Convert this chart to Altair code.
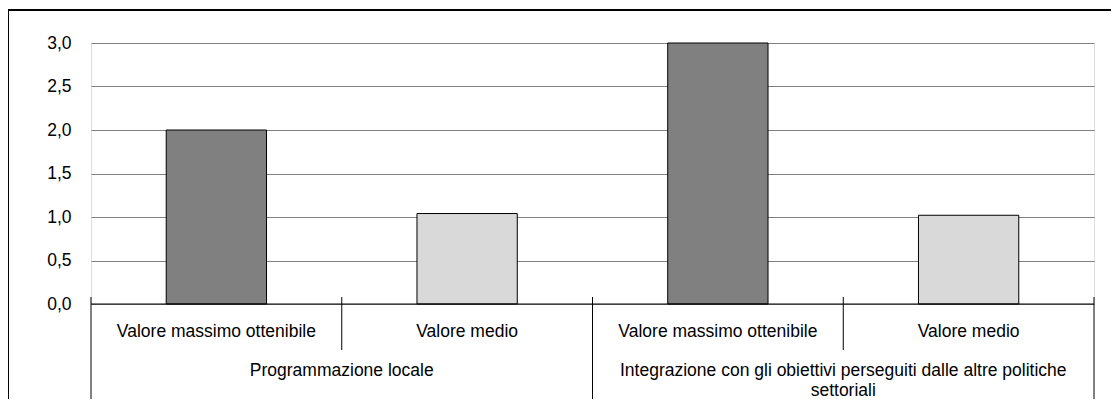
import altair as alt
import pandas as pd

# ---- data ----
groups = [
    "Programmazione locale",
    "Integrazione con gli obiettivi perseguiti dalle altre politiche\nsettoriali",
]
series = ["Valore massimo ottenibile", "Valore medio"]
values = [[2.0, 1.04], [3.0, 1.02]]
colors = ["#808080", "#d9d9d9"]
y_ticks = [0.0, 0.5, 1.0, 1.5, 2.0, 2.5, 3.0]

FONT = "Liberation Sans"
FS = 17.5
W, H = 1003, 261
n = len(groups) * len(series)

rows = []
for gi, g in enumerate(groups):
    for si, s in enumerate(series):
        pos = gi * len(series) + si
        rows.append(dict(group=g, series=s, value=values[gi][si], base=0.0,
                         start=pos + 0.3, end=pos + 0.7, mid=pos + 0.5))
bars_df = pd.DataFrame(rows)

group_df = pd.DataFrame([
    dict(label=g, mid=gi * len(series) + len(series) / 2) for gi, g in enumerate(groups)
])
bounds = list(range(n + 1))
group_bounds = pd.DataFrame({"b": [b for b in bounds if b % len(series) == 0]})
sub_bounds = pd.DataFrame({"b": [b for b in bounds if b % len(series) != 0]})

xs = alt.Scale(domain=[0, n], nice=False, zero=False)
ys = alt.Scale(domain=[0, 3], nice=False)

bars = alt.Chart(bars_df).mark_bar(stroke="black", strokeWidth=1).encode(
    x=alt.X("start:Q", scale=xs, axis=None),
    x2="end:Q",
    y=alt.Y("value:Q", scale=ys, axis=alt.Axis(
        values=y_ticks,
        labelExpr="replace(format(datum.value,'.1f'),'.',',')",
        grid=True, gridColor="#808080", gridWidth=1,
        domain=False, ticks=False,
        labelFontSize=FS, labelFont=FONT, labelColor="black",
        labelPadding=20, title=None)),
    y2="base:Q",
    color=alt.Color("series:N", scale=alt.Scale(domain=series, range=colors), legend=None),
)

axis_line = alt.Chart(pd.DataFrame({"a": [0], "b": [n], "y": [0]})).mark_rule(
    color="black", strokeWidth=1).encode(
    x=alt.X("a:Q", scale=xs), x2="b:Q", y=alt.Y("y:Q", scale=ys))

sub_div = alt.Chart(sub_bounds).mark_rule(color="black", strokeWidth=1).encode(
    x=alt.X("b:Q", scale=xs), y=alt.value(H - 7), y2=alt.value(H + 46))

grp_div = alt.Chart(group_bounds).mark_rule(color="black", strokeWidth=1).encode(
    x=alt.X("b:Q", scale=xs), y=alt.value(H - 7), y2=alt.value(H + 120))

sub_text = alt.Chart(bars_df).mark_text(
    font=FONT, fontSize=FS, color="black", baseline="middle", align="center").encode(
    x=alt.X("mid:Q", scale=xs), y=alt.value(289), text="series:N")

grp_text = alt.Chart(group_df).mark_text(
    font=FONT, fontSize=FS, color="black", baseline="top", align="center",
    lineBreak="\n", lineHeight=20).encode(
    x=alt.X("mid:Q", scale=xs), y=alt.value(319), text="label:N")

frame_top = alt.Chart(alt.Data(values=[{}])).mark_rule(color="black", strokeWidth=2).encode(
    x=alt.value(-83), x2=alt.value(W + 20), y=alt.value(-33))
frame_left = alt.Chart(alt.Data(values=[{}])).mark_rule(color="black", strokeWidth=1).encode(
    x=alt.value(-82.5), y=alt.value(-34), y2=alt.value(H + 120))

chart = alt.layer(
    bars, axis_line, sub_div, grp_div, sub_text, grp_text, frame_top, frame_left
).properties(
    width=W, height=H,
    padding={"left": 83, "top": 35, "right": 17, "bottom": 95},
    autosize="none",
).configure_view(stroke=None).configure(font=FONT)

chart.save("out.html", embed_options={"renderer": "svg", "actions": False})
